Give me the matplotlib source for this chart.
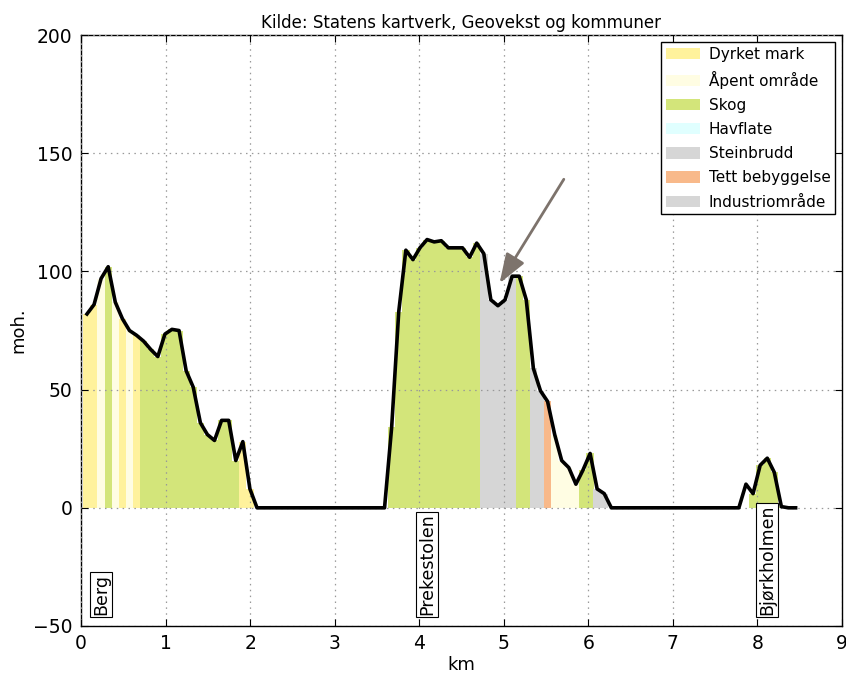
import matplotlib
matplotlib.use("Agg")
import matplotlib.pyplot as plt
from matplotlib.patches import Patch
import numpy as np

km = [0.071, 0.155, 0.238, 0.322, 0.406, 0.490, 0.574, 0.657, 0.741, 0.825,
      0.909, 0.993, 1.076, 1.160, 1.244, 1.328, 1.412, 1.495, 1.579, 1.663,
      1.747, 1.831, 1.914, 1.998, 2.082, 2.166, 2.250, 2.333, 2.417, 2.501,
      2.585, 2.669, 2.752, 2.836, 2.920, 3.004, 3.088, 3.171, 3.255, 3.339,
      3.423, 3.507, 3.590, 3.674, 3.758, 3.842, 3.926, 4.009, 4.093, 4.177,
      4.261, 4.345, 4.428, 4.512, 4.596, 4.680, 4.764, 4.847, 4.931, 5.015,
      5.099, 5.183, 5.266, 5.350, 5.434, 5.518, 5.602, 5.685, 5.769, 5.853,
      5.937, 6.021, 6.104, 6.188, 6.272, 6.356, 6.440, 6.523, 6.607, 6.691,
      6.775, 6.859, 6.942, 7.026, 7.110, 7.194, 7.278, 7.361, 7.445, 7.529,
      7.613, 7.697, 7.780, 7.864, 7.948, 8.032, 8.116, 8.199, 8.283, 8.367,
      8.451]

moh = [82, 86, 97, 102, 87, 80, 75, 73, 70.5, 67,
       64, 73.5, 75.5, 75, 58, 51, 36, 31, 28.5, 37,
       37, 20, 28, 8, 0, 0, 0, 0, 0, 0,
       0, 0, 0, 0, 0, 0, 0, 0, 0, 0,
       0, 0, 0, 34, 83, 109, 105, 110, 113.5, 112.5,
       113, 110, 110, 110, 106, 112, 107.5, 88, 85.5, 88,
       98, 98, 88, 59, 49.5, 45, 31, 20, 17, 10,
       16, 23, 8, 6, 0, 0, 0, 0, 0, 0,
       0, 0, 0, 0, 0, 0, 0, 0, 0, 0,
       0, 0, 0, 10, 6, 18, 21, 15, 0.5, 0,
       0]

# land cover code per sample point
cover = ("DDASADAD" + "S" * 14 + "DD" + "H" * 19 + "S" * 13 + "BBBBB" + "SS"
         + "II" + "T" + "AAAA" + "SS" + "III" + "H" * 18 + "N" + "SSSSS" + "HH")

cover_codes = ["D", "A", "S", "H", "B", "T", "I"]
cover_names = ["Dyrket mark", "Åpent område", "Skog", "Havflate",
               "Steinbrudd", "Tett bebyggelse", "Industriområde"]
cover_colors = ["#fff29c", "#fffde3", "#d3e57a", "#e0ffff",
                "#d6d6d6", "#f8b98a", "#d6d6d6"]

places = ["Berg", "Prekestolen", "Bjørkholmen"]
place_km = [0.24, 4.09, 8.11]

x = np.array(km)
y = np.array(moh)
codes = np.array(list(cover))
width = np.diff(x).mean()

fig = plt.figure(figsize=(8.46, 6.75), dpi=100)
ax = fig.add_axes([0.0957, 0.0726, 0.8996, 0.8754])

for code, name, col in zip(cover_codes, cover_names, cover_colors):
    m = codes == code
    ax.bar(x[m], y[m], width=width * 1.04, color=col, linewidth=0,
           align="center", zorder=1)

ax.plot(x, y, color="black", lw=2.6, zorder=3, solid_joinstyle="round")

ax.set_xlim(0, 9)
ax.set_ylim(-50, 200)
ax.set_xticks(range(0, 10))
ax.set_yticks([-50, 0, 50, 100, 150, 200])
ax.tick_params(direction="in", top=True, right=True, labelsize=13.5, length=5,
               pad=6)
ax.grid(True, linestyle=(0, (1.2, 3.5)), color="0.6", linewidth=0.9, zorder=2)
ax.set_axisbelow(False)
for s in ax.spines.values():
    s.set_linewidth(1.0)

ax.set_xlabel("km", fontsize=13, labelpad=2)
ax.set_ylabel("moh.", fontsize=13, labelpad=4)
ax.set_title("Kilde: Statens kartverk, Geovekst og kommuner", fontsize=12, pad=5)

for name, px in zip(places, place_km):
    ax.text(px, -45.5, name, rotation=90, ha="center", va="bottom", fontsize=12.5,
            zorder=4, bbox=dict(boxstyle="square,pad=0.12", facecolor="white",
                                edgecolor="black", linewidth=0.8))

ax.annotate("", xy=(4.95, 95), xytext=(5.71, 139),
            arrowprops=dict(arrowstyle="-|>,head_length=0.9,head_width=0.32",
                            color="#7d736c", lw=2, mutation_scale=20,
                            shrinkA=0, shrinkB=0), zorder=5)

handles = [Patch(facecolor=c, edgecolor="none", label=n)
           for n, c in zip(cover_names, cover_colors)]
leg = ax.legend(handles=handles, loc="upper right", fontsize=11, fancybox=False,
                framealpha=1, edgecolor="black", labelspacing=0.6,
                handlelength=2.2, handleheight=0.75, handletextpad=0.6,
                borderaxespad=0.45, borderpad=0.3)
leg.get_frame().set_linewidth(1.0)
leg.set_zorder(6)

fig.savefig("out.png", dpi=100, facecolor="white")
